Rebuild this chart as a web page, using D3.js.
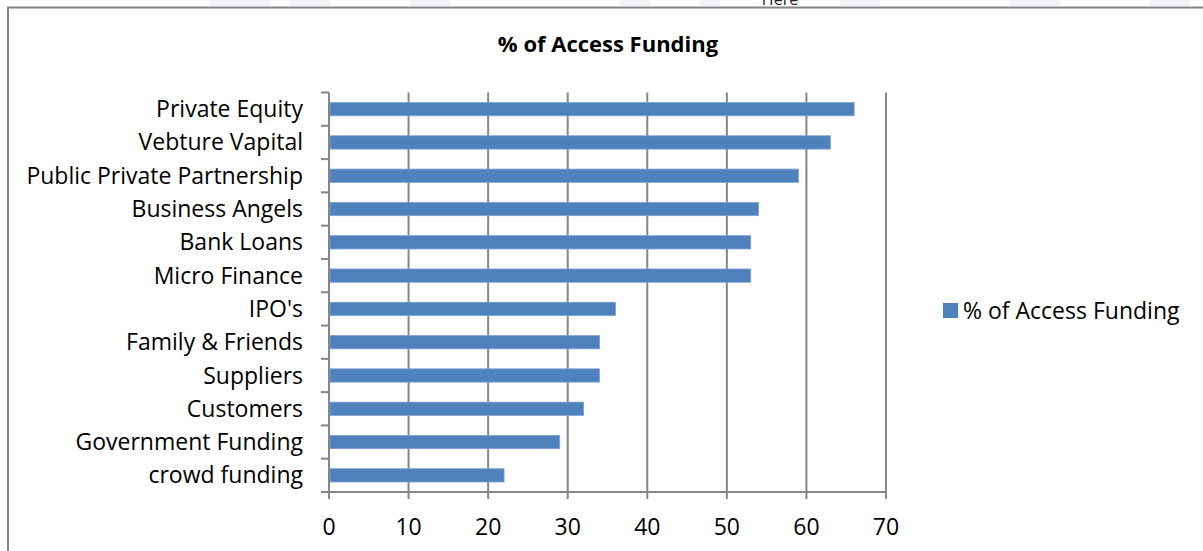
<!DOCTYPE html>
<html>
<head>
<meta charset="utf-8">
<script src="https://cdn.jsdelivr.net/npm/d3@7"></script>
<style>
  body { margin: 0; background: #fff; }
  svg { display: block; font-family: "Open Sans", Lato, sans-serif; }
</style>
</head>
<body>
<div class="canvas"></div>
<script>
// data
const categories = ['Private Equity', 'Vebture Vapital', 'Public Private Partnership', 'Business Angels',
  'Bank Loans', 'Micro Finance', "IPO's", 'Family & Friends', 'Suppliers', 'Customers',
  'Government Funding', 'crowd funding'];
const values = [66, 63, 59, 54, 53, 53, 36, 34, 34, 32, 29, 22];
const xTicks = [0, 10, 20, 30, 40, 50, 60, 70];
const seriesName = '% of Access Funding';

const dims = {width: 1203, height: 551};
const plot = {left: 329, right: 886, top: 92.5, bottom: 492};
const barColour = '#4f81bd';
const lineColour = '#868686';

const svg = d3.select('.canvas')
    .append('svg')
    .attr('width', dims.width)
    .attr('height', dims.height);

// faint leftovers of the page above the chart
const smudges = [[210, 60], [290, 40], [410, 40], [620, 30], [700, 20], [840, 40], [1010, 50], [1150, 40]];
svg.selectAll('rect.smudge')
    .data(smudges)
    .enter().append('rect')
        .attr('class', 'smudge')
        .attr('x', d => d[0])
        .attr('y', 0)
        .attr('width', d => d[1])
        .attr('height', 6)
        .attr('fill', '#dcdae6')
        .attr('opacity', 0.35);

svg.append('text')
    .attr('x', 780)
    .attr('y', 5)
    .attr('text-anchor', 'middle')
    .attr('font-size', 16)
    .attr('fill', '#222')
    .text('Here');

// chart frame
svg.append('rect')
    .attr('x', 8)
    .attr('y', 7.5)
    .attr('width', 1210)
    .attr('height', 560)
    .attr('fill', '#fff')
    .attr('stroke', lineColour)
    .attr('stroke-width', 2);

// title
svg.append('text')
    .attr('x', 608)
    .attr('y', 52)
    .attr('text-anchor', 'middle')
    .attr('font-size', 22)
    .attr('font-weight', 'bold')
    .attr('fill', '#000')
    .text(seriesName);

// scales
const x = d3.scaleLinear()
    .domain([0, 70])
    .range([plot.left, plot.right]);

const y = d3.scaleBand()
    .domain(categories)
    .range([plot.top, plot.bottom])
    .paddingInner(0.6)
    .paddingOuter(0.3);

// vertical gridlines
svg.append('g')
    .selectAll('line')
    .data(xTicks.slice(1))
    .enter().append('line')
        .attr('x1', d => x(d))
        .attr('x2', d => x(d))
        .attr('y1', plot.top)
        .attr('y2', plot.bottom)
        .attr('stroke', lineColour)
        .attr('stroke-width', 2);

// bars
svg.append('g')
    .selectAll('rect')
    .data(categories)
    .enter().append('rect')
        .attr('x', x(0) + 1)
        .attr('y', d => y(d))
        .attr('width', (d, i) => x(values[i]) - x(0) - 1)
        .attr('height', y.bandwidth())
        .attr('fill', barColour)
        .attr('stroke', '#7fa3d3')
        .attr('stroke-width', 0.8);

// left axis: line plus ticks on band boundaries
const boundaries = d3.range(categories.length + 1).map(i => plot.top + i * (plot.bottom - plot.top) / categories.length);
const yAxis = svg.append('g');
yAxis.append('line')
    .attr('x1', plot.left).attr('x2', plot.left)
    .attr('y1', plot.top).attr('y2', plot.bottom)
    .attr('stroke', lineColour).attr('stroke-width', 2);
yAxis.selectAll('line.tick')
    .data(boundaries)
    .enter().append('line')
        .attr('class', 'tick')
        .attr('x1', plot.left - 8).attr('x2', plot.left)
        .attr('y1', d => d).attr('y2', d => d)
        .attr('stroke', lineColour).attr('stroke-width', 2);
yAxis.selectAll('text')
    .data(categories)
    .enter().append('text')
        .attr('x', 303)
        .attr('y', d => y(d) + y.bandwidth() / 2)
        .attr('dy', '0.35em')
        .attr('text-anchor', 'end')
        .attr('font-size', 23)
        .attr('fill', '#000')
        .text(d => d);

// bottom axis
const xAxis = svg.append('g');
xAxis.append('line')
    .attr('x1', plot.left - 8).attr('x2', plot.right)
    .attr('y1', plot.bottom).attr('y2', plot.bottom)
    .attr('stroke', lineColour).attr('stroke-width', 2);
xAxis.selectAll('line.tick')
    .data(xTicks)
    .enter().append('line')
        .attr('class', 'tick')
        .attr('x1', d => x(d)).attr('x2', d => x(d))
        .attr('y1', plot.bottom).attr('y2', plot.bottom + 7)
        .attr('stroke', lineColour).attr('stroke-width', 2);
xAxis.selectAll('text')
    .data(xTicks)
    .enter().append('text')
        .attr('x', d => x(d))
        .attr('y', 535)
        .attr('text-anchor', 'middle')
        .attr('font-size', 23)
        .attr('fill', '#000')
        .text(d => d);

// legend
const legend = svg.append('g')
    .attr('transform', 'translate(943,303)');
legend.append('rect')
    .attr('width', 15)
    .attr('height', 15)
    .attr('fill', barColour);
legend.append('text')
    .attr('x', 20)
    .attr('y', 7.5)
    .attr('dy', '0.35em')
    .attr('font-size', 23)
    .attr('fill', '#000')
    .text(seriesName);
</script>
</body>
</html>
